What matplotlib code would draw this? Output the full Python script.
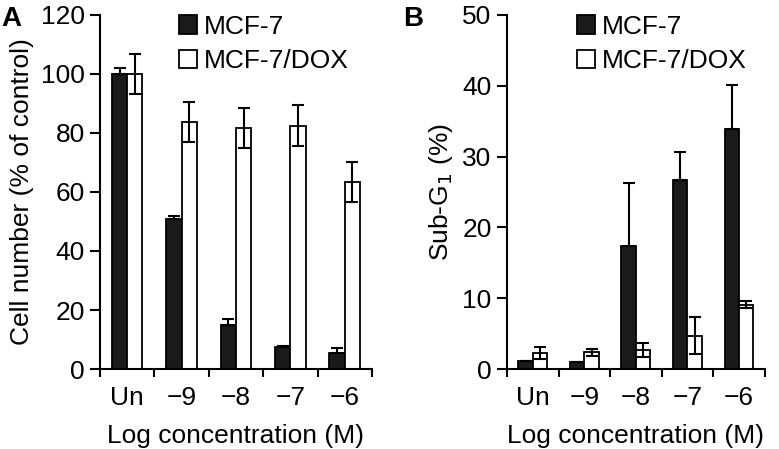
import numpy as np
import matplotlib
matplotlib.use("Agg")
import matplotlib.pyplot as plt

plt.rcParams['font.family'] = ['Liberation Sans', 'DejaVu Sans']

categories = ["Un", "\u22129", "\u22128", "\u22127", "\u22126"]
series = ["MCF-7", "MCF-7/DOX"]

# panel A: cell number (% of control)
cell_mcf7 = [100, 51, 15, 7.6, 5.4]
cell_mcf7_err = [2, 1, 2, 0.2, 1.9]
cell_dox = [100, 83.6, 81.6, 82.5, 63.3]
cell_dox_err = [6.8, 6.8, 6.8, 7.0, 6.8]

# panel B: sub-G1 (%)
subg1_mcf7 = [1.1, 0.95, 17.4, 26.7, 33.9]
subg1_mcf7_err = [0.05, 0.05, 8.8, 4.0, 6.2]
subg1_dox = [2.25, 2.35, 2.7, 4.7, 9.1]
subg1_dox_err = [0.8, 0.45, 1.0, 2.6, 0.45]

fig = plt.figure(figsize=(7.79, 4.49), dpi=100)
axA = fig.add_axes([0.1284, 0.178, 0.349, 0.789])
axB = fig.add_axes([0.6508, 0.178, 0.331, 0.789])

FS = 19
w = 0.28
x = np.arange(len(categories))


def draw(ax, v1, e1, v2, e2, ymax, ystep, ylabel, leg_x):
    ekw = dict(ecolor="black", elinewidth=1.5, capsize=4, capthick=1.5)
    # black bars: only the upper half of the error bar shows
    ax.bar(x - w / 2, v1, w, color="#1a1a1a", edgecolor="black", linewidth=1.3,
           yerr=[np.zeros(len(e1)), e1], error_kw=ekw, label=series[0], zorder=2)
    ax.bar(x + w / 2, v2, w, color="white", edgecolor="black", linewidth=1.3,
           yerr=e2, error_kw=ekw, label=series[1], zorder=2)
    ax.set_xlim(-0.5, len(categories) - 0.5)
    ax.set_ylim(0, ymax)
    ax.set_yticks(np.arange(0, ymax + 1, ystep))
    ax.set_xticks(x)
    ax.set_xticklabels(categories)
    ax.set_xticks(np.arange(-0.5, len(categories), 1), minor=True)
    ax.tick_params(axis="x", which="major", length=0, pad=12, labelsize=FS)
    ax.tick_params(axis="x", which="minor", length=6, width=1.5, direction="out")
    ax.tick_params(axis="y", length=7, width=1.5, direction="out", labelsize=FS, pad=4)
    for s in ("top", "right"):
        ax.spines[s].set_visible(False)
    for s in ("left", "bottom"):
        ax.spines[s].set_linewidth(1.5)
    ax.set_xlabel("Log concentration (M)", fontsize=FS, labelpad=10)
    ax.set_ylabel(ylabel, fontsize=FS, labelpad=5)
    ax.legend(loc="upper left", bbox_to_anchor=(leg_x, 1.0), frameon=False, fontsize=FS,
              handlelength=0.7, handleheight=0.7, handletextpad=0.25, labelspacing=0.4,
              borderaxespad=0, borderpad=0)


draw(axA, cell_mcf7, cell_mcf7_err, cell_dox, cell_dox_err, 120, 20,
     "Cell number (% of control)", 0.29)
draw(axB, subg1_mcf7, subg1_mcf7_err, subg1_dox, subg1_dox_err, 50, 10,
     "Sub-G$_1$ (%)", 0.27)

fig.text(0.002, 0.987, "A", fontsize=20, fontweight="bold", va="top")
fig.text(0.518, 0.987, "B", fontsize=20, fontweight="bold", va="top")

fig.savefig("out.png", dpi=100)
